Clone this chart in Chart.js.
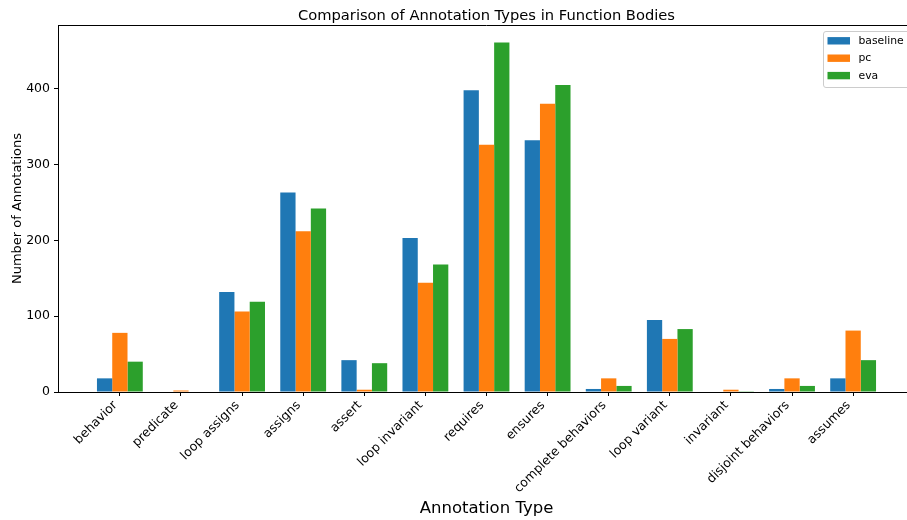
<!DOCTYPE html>
<html><head><meta charset="utf-8">
<script src="https://cdn.jsdelivr.net/npm/chart.js@4"></script>
<style>
html,body{margin:0;padding:0;overflow:hidden;background:#fff;width:907px;height:520px}
#wrap{width:930px;height:520px;position:relative}
canvas{display:block}
</style>
</head><body><div id="wrap"><canvas id="c" width="930" height="520"></canvas></div>
<script>
const categories = ['behavior','predicate','loop assigns','assigns','assert','loop invariant','requires','ensures','complete behaviors','loop variant','invariant','disjoint behaviors','assumes'];
const baseline = [18, 0, 132, 263, 42, 203, 398, 332, 4, 95, 0, 4, 18];
const pc       = [78, 2, 106, 212, 3, 144, 326, 380, 18, 70, 3, 18, 81];
const eva      = [40, 0, 119, 242, 38, 168, 461, 405, 8, 83, 1, 8, 42];
const seriesNames = ['baseline', 'pc', 'eva'];
const seriesColors = ['#1f77b4', '#ff7f0e', '#2ca02c'];
const yTicks = [0, 100, 200, 300, 400];
const titleText = 'Comparison of Annotation Types in Function Bodies';
const xTitle = 'Annotation Type';
const yTitle = 'Number of Annotations';

const FONT = 'DejaVu Sans';
const seriesValues = [baseline, pc, eva];
const datasets = seriesNames.map((n, k) => ({
  label: n,
  data: seriesValues[k].map((v, i) => ({x: i, y: v})),
  backgroundColor: seriesColors[k],
  borderWidth: 0,
  categoryPercentage: 0.75,
  barPercentage: 1.0
}));

const decorPlugin = {
  id: 'decor',
  afterDraw(chart) {
    const ctx = chart.ctx, ca = chart.chartArea;
    ctx.save();
    // top & right spines
    ctx.strokeStyle = '#000';
    ctx.lineWidth = 1;
    ctx.beginPath();
    ctx.moveTo(ca.left, Math.round(ca.top) + 0.5);
    ctx.lineTo(ca.right, Math.round(ca.top) + 0.5);
    ctx.lineTo(ca.right, ca.bottom);
    ctx.stroke();
    // title
    ctx.fillStyle = '#000';
    ctx.font = '14.7px "' + FONT + '"';
    ctx.textAlign = 'center';
    ctx.textBaseline = 'alphabetic';
    ctx.fillText(titleText, (ca.left + ca.right) / 2, 19.5);
    // legend (inside, upper right)
    const fs = 10.8;
    const boxL = 823.5, boxT = 31.5, boxR = ca.right - 5.5, boxB = 87.5, r = 2.5;
    ctx.beginPath();
    ctx.moveTo(boxL + r, boxT);
    ctx.lineTo(boxR - r, boxT);
    ctx.arcTo(boxR, boxT, boxR, boxT + r, r);
    ctx.lineTo(boxR, boxB - r);
    ctx.arcTo(boxR, boxB, boxR - r, boxB, r);
    ctx.lineTo(boxL + r, boxB);
    ctx.arcTo(boxL, boxB, boxL, boxB - r, r);
    ctx.lineTo(boxL, boxT + r);
    ctx.arcTo(boxL, boxT, boxL + r, boxT, r);
    ctx.closePath();
    ctx.fillStyle = 'rgba(255,255,255,0.8)';
    ctx.fill();
    ctx.strokeStyle = '#cccccc';
    ctx.stroke();
    ctx.font = fs + 'px "' + FONT + '"';
    ctx.textAlign = 'left';
    ctx.textBaseline = 'middle';
    chart.data.datasets.forEach((ds, k) => {
      const cy = 40.7 + k * 17.4;
      ctx.fillStyle = ds.backgroundColor;
      ctx.fillRect(827.5, cy - 3.6, 22.5, 7.4);
      ctx.fillStyle = '#000';
      ctx.fillText(ds.label, 858.5, cy + 0.5);
    });
    ctx.restore();
  }
};

new Chart(document.getElementById('c'), {
  type: 'bar',
  data: {datasets},
  options: {
    responsive: false,
    animation: false,
    devicePixelRatio: 1,
    layout: {padding: {top: 25, right: 15, left: 0, bottom: 0}},
    plugins: {legend: {display: false}, title: {display: false}, tooltip: {enabled: false}},
    scales: {
      x: {
        type: 'linear', min: -1.0125, max: 13.0125, offset: false,
        afterBuildTicks: s => { s.ticks = categories.map((c, i) => ({value: i})); },
        afterFit: s => { s.height = 128; },
        ticks: {autoSkip: false, minRotation: 45, maxRotation: 45, padding: 2, labelOffset: -4.5,
                font: {family: FONT, size: 12.5}, color: '#000',
                callback: (v, i) => categories[i]},
        grid: {display: true, offset: false, drawOnChartArea: false, drawTicks: true, tickLength: 4, color: '#000', lineWidth: 1},
        border: {display: true, color: '#000', width: 1},
        title: {display: true, text: xTitle, font: {family: FONT, size: 16.5}, color: '#000', padding: {top: 0, bottom: 1}}
      },
      y: {
        min: 0, max: 484,
        afterBuildTicks: s => { s.ticks = yTicks.map(v => ({value: v})); },
        afterFit: s => { s.width = 58; },
        ticks: {padding: 4, font: {family: FONT, size: 12.5}, color: '#000'},
        grid: {display: true, drawOnChartArea: false, drawTicks: true, tickLength: 4, color: '#000', lineWidth: 1},
        border: {display: true, color: '#000', width: 1},
        title: {display: true, text: yTitle, font: {family: FONT, size: 13}, color: '#000', padding: {top: 10, bottom: 0}}
      }
    }
  },
  plugins: [decorPlugin]
});
</script>
</body></html>
